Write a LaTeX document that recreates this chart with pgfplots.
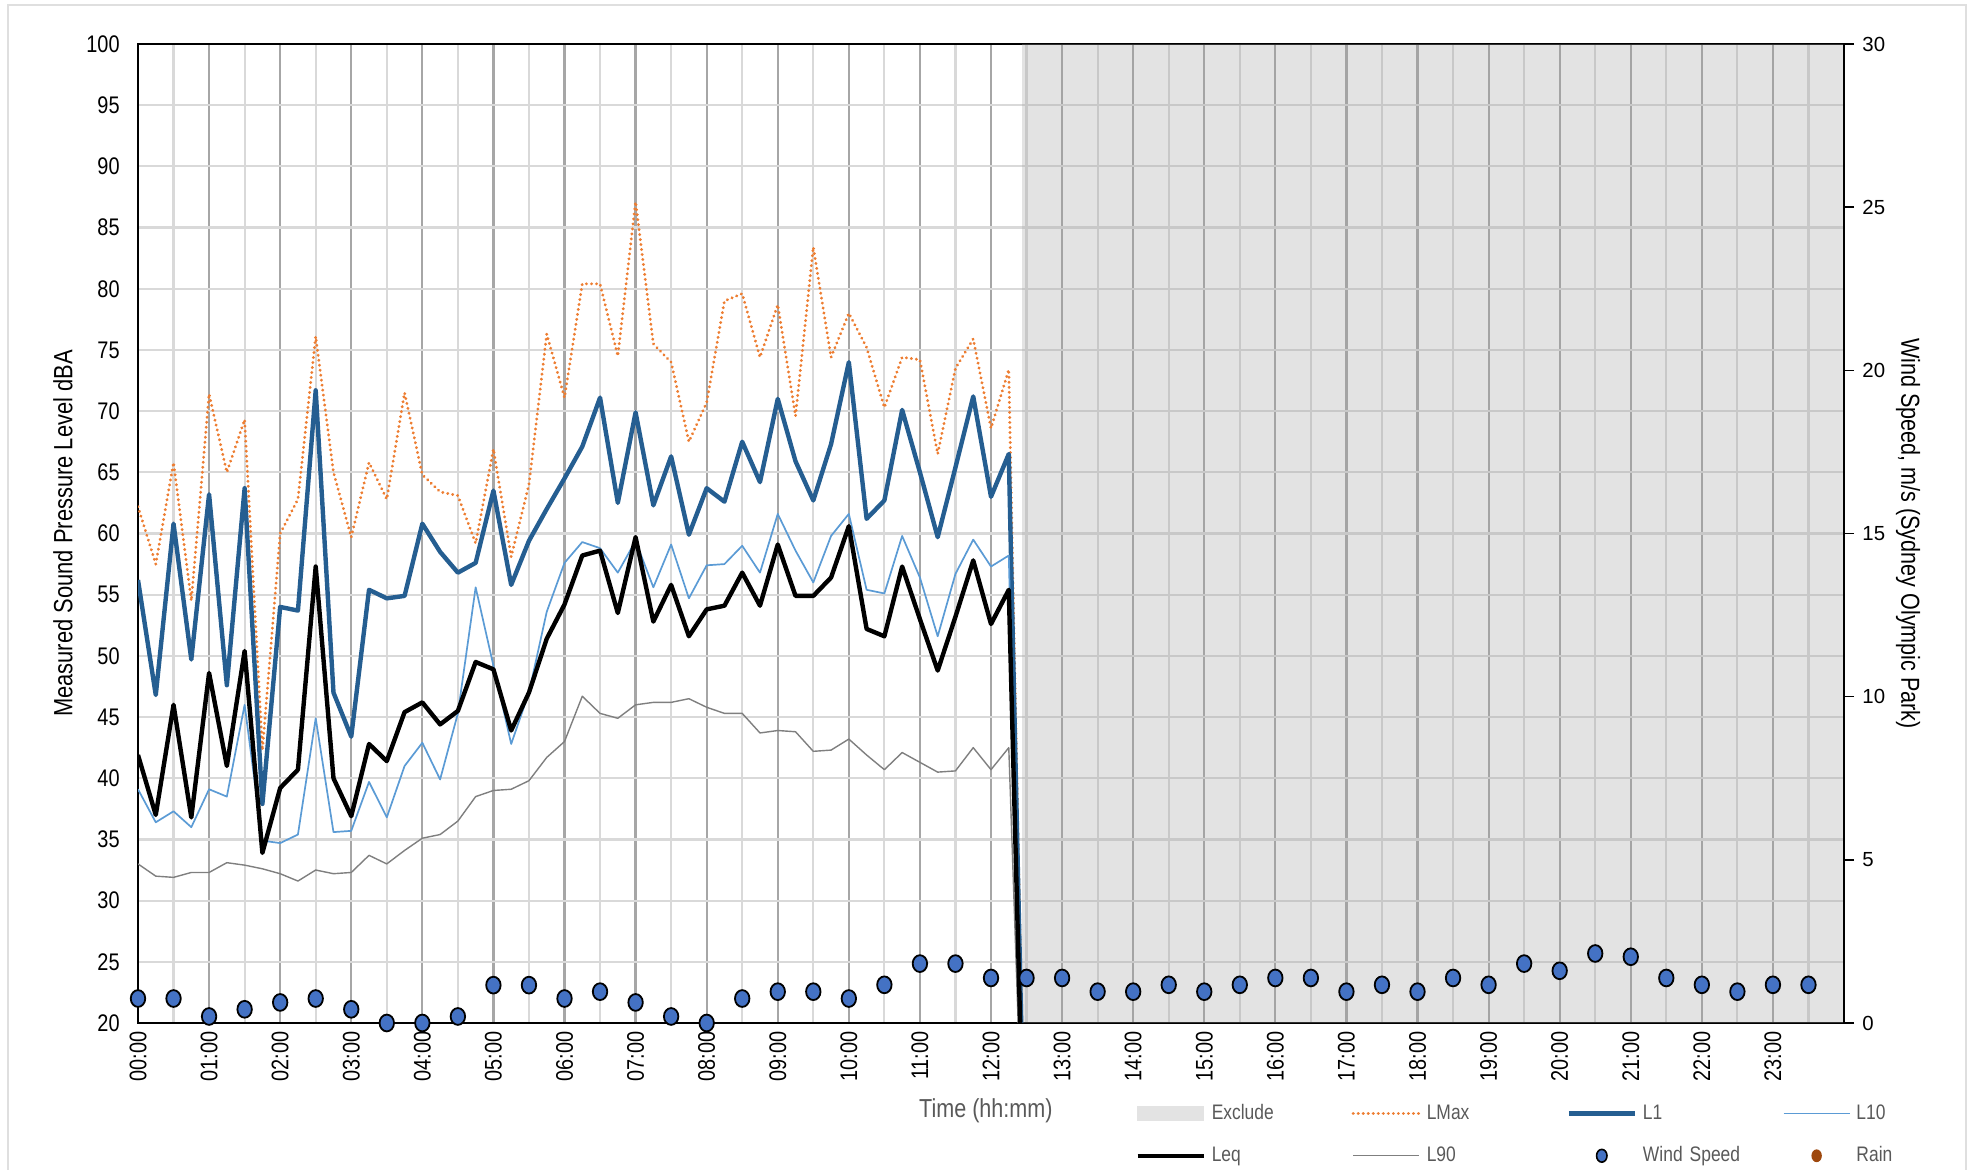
\documentclass[border=0pt]{standalone}
\usepackage{fontspec}
\usepackage{pgfplots}
\usepackage{pgfplotstable}
\pgfplotsset{compat=1.18}
\setmainfont{Liberation Sans}
\newfontfamily\narrowfont{Liberation Sans}[FakeStretch=0.83]
\definecolor{lOne}{HTML}{255E91}
\definecolor{lTen}{HTML}{5B9BD5}
\definecolor{lMax}{HTML}{ED7D31}
\definecolor{lNinety}{HTML}{7F7F7F}
\definecolor{windblue}{HTML}{4472C4}
\definecolor{rainbrown}{HTML}{9E480E}
\definecolor{exclgray}{HTML}{E3E3E3}
\definecolor{exclbase}{HTML}{A0A0A0}
\definecolor{gridlight}{HTML}{D9D9D9}
\definecolor{gridhour}{HTML}{A6A6A6}
\definecolor{txtgray}{HTML}{595959}

\pgfplotsset{
  linelegend/.style={legend image code/.code={\draw[##1] (0pt,0pt) -- (33pt,0pt);}},
  boxlegend/.style={legend image code/.code={\fill[exclgray] (0pt,-3.5pt) rectangle (33pt,3.5pt);}},
  windlegend/.style={legend image code/.code={\path[draw=none] (0pt,0pt) -- (33pt,0pt); \filldraw[fill=windblue, draw=black, line width=0.8pt] (16.5pt,0pt) ellipse (2.6pt and 3.2pt);}},
  rainlegend/.style={legend image code/.code={\path[draw=none] (0pt,0pt) -- (33pt,0pt); \fill[rainbrown, draw=none] (16.5pt,0pt) ellipse (2.6pt and 3.2pt);}},
}

\pgfplotstableread{
t L1 LMax L10 Leq L90
0.00 56.2 62.2 39.1 41.9 33.0
0.25 46.8 57.5 36.4 37.0 32.0
0.50 60.8 65.8 37.3 46.0 31.9
0.75 49.7 54.5 36.0 36.8 32.3
1.00 63.2 71.4 39.1 48.6 32.3
1.25 47.6 65.0 38.5 41.0 33.1
1.50 63.7 69.3 46.0 50.4 32.9
1.75 37.9 42.3 34.9 33.9 32.6
2.00 54.0 60.0 34.7 39.2 32.2
2.25 53.7 62.8 35.4 40.7 31.6
2.50 71.7 76.1 44.9 57.3 32.5
2.75 47.0 65.0 35.6 40.0 32.2
3.00 43.4 59.7 35.7 36.9 32.3
3.25 55.4 65.8 39.7 42.8 33.7
3.50 54.7 62.8 36.8 41.4 33.0
3.75 54.9 71.5 41.0 45.4 34.1
4.00 60.8 64.8 42.9 46.2 35.1
4.25 58.5 63.4 39.9 44.4 35.4
4.50 56.8 63.1 45.3 45.5 36.5
4.75 57.6 59.2 55.6 49.5 38.5
5.00 63.5 66.9 49.2 48.9 39.0
5.25 55.8 58.1 42.8 43.9 39.1
5.50 59.4 64.0 47.0 47.0 39.8
5.75 62.0 76.3 53.6 51.4 41.7
6.00 64.5 71.1 57.6 54.2 43.0
6.25 67.1 80.4 59.3 58.2 46.7
6.50 71.1 80.4 58.8 58.6 45.3
6.75 62.5 74.5 56.8 53.5 44.9
7.00 69.9 87.1 59.4 59.7 46.0
7.25 62.3 75.5 55.6 52.8 46.2
7.50 66.3 74.0 59.1 55.8 46.2
7.75 59.9 67.5 54.7 51.6 46.5
8.00 63.7 70.7 57.4 53.8 45.8
8.25 62.6 79.0 57.5 54.1 45.3
8.50 67.5 79.6 59.0 56.8 45.3
8.75 64.2 74.4 56.8 54.1 43.7
9.00 71.0 78.7 61.6 59.1 43.9
9.25 65.9 69.6 58.6 54.9 43.8
9.50 62.7 83.4 56.0 54.9 42.2
9.75 67.3 74.4 59.8 56.4 42.3
10.00 74.0 78.0 61.6 60.6 43.2
10.25 61.2 75.2 55.4 52.2 41.9
10.50 62.7 70.3 55.1 51.6 40.7
10.75 70.1 74.4 59.8 57.3 42.1
11.00 65.0 74.2 56.4 53.0 41.3
11.25 59.7 66.5 51.6 48.8 40.5
11.50 65.4 73.5 56.7 53.2 40.6
11.75 71.2 75.9 59.5 57.8 42.5
12.00 63.0 68.6 57.3 52.6 40.7
12.25 66.5 73.4 58.2 55.4 42.5
12.50 0 0 0 0 0
}\levels

\pgfplotstableread{
t w
0.0 0.75
0.5 0.75
1.0 0.20
1.5 0.42
2.0 0.63
2.5 0.75
3.0 0.42
3.5 0.00
4.0 0.00
4.5 0.20
5.0 1.16
5.5 1.16
6.0 0.75
6.5 0.96
7.0 0.63
7.5 0.20
8.0 0.00
8.5 0.75
9.0 0.96
9.5 0.96
10.0 0.75
10.5 1.17
11.0 1.82
11.5 1.82
12.0 1.38
12.5 1.38
13.0 1.38
13.5 0.96
14.0 0.96
14.5 1.17
15.0 0.96
15.5 1.17
16.0 1.38
16.5 1.38
17.0 0.96
17.5 1.17
18.0 0.96
18.5 1.38
19.0 1.17
19.5 1.82
20.0 1.60
20.5 2.13
21.0 2.03
21.5 1.38
22.0 1.17
22.5 0.96
23.0 1.17
23.5 1.17
}\wind

\begin{document}
\begin{tikzpicture}
\useasboundingbox (-69pt,-73.5pt) rectangle (917.5pt,511.5pt);
\draw[gray!25, line width=1pt] (-65pt,-90pt) -- (-65pt,509pt) -- (914pt,509pt) -- (914pt,-90pt);

\begin{axis}[
  scale only axis, width=853pt, height=489.5pt,
  at={(0pt,0pt)}, anchor=south west,
  xmin=0, xmax=24, ymin=20, ymax=100,
  xtick={0,1,...,23},
  xticklabels={00:00,01:00,02:00,03:00,04:00,05:00,06:00,07:00,08:00,09:00,10:00,11:00,12:00,13:00,14:00,15:00,16:00,17:00,18:00,19:00,20:00,21:00,22:00,23:00},
  minor xtick={0.5,1.5,...,23.5},
  ytick={20,25,...,100},
  xmajorgrids, xminorgrids, ymajorgrids,
  major x grid style={color=gridhour, line width=1.1pt},
  minor x grid style={color=gridlight, line width=1.1pt},
  major y grid style={color=gridlight, line width=1.1pt},
  major tick length=0pt, minor tick length=0pt,
  axis line style={black, line width=1.1pt},
  /pgf/number format/assume math mode=true,
  tick label style={font=\narrowfont\fontsize{12}{14}\selectfont, black},
  yticklabel style={inner sep=0pt, xshift=-9pt},
  xticklabel style={rotate=90, anchor=east, inner sep=0pt, xshift=-4pt},
  ylabel={Measured Sound Pressure Level dBA},
  ylabel style={at={(axis description cs:-0.044,0.5)}, anchor=center, font=\narrowfont\fontsize{13.2}{15}\selectfont, black},
  xlabel={Time (hh:mm)},
  xlabel style={at={(axis description cs:0.497,-0.0899)}, anchor=center, font=\narrowfont\fontsize{13}{15}\selectfont, txtgray},
]
\addplot[fill=exclbase, fill opacity=0.295, draw=none] coordinates {(12.44,100) (24,100)} \closedcycle;
\addplot[lMax, line width=1.6pt, dash pattern=on 0.01pt off 2.5pt, line cap=round, line join=round] table[x=t, y=LMax] {\levels};
\addplot[lOne, line width=2.2pt, line join=round] table[x=t, y=L1] {\levels};
\addplot[lTen, line width=0.85pt, line join=round] table[x=t, y=L10] {\levels};
\addplot[lNinety, line width=0.7pt, line join=round] table[x=t, y=L90] {\levels};
\addplot[black, line width=2.2pt, line join=round] table[x=t, y=Leq] {\levels};
\end{axis}

\begin{axis}[
  scale only axis, width=853pt, height=489.5pt,
  at={(0pt,0pt)}, anchor=south west,
  xmin=0, xmax=24, ymin=0, ymax=30,
  hide x axis,
  axis y line*=right,
  ytick={0,5,...,30},
  axis line style={black, line width=1.1pt},
  major tick length=5pt,
  tick align=outside,
  tick style={black, line width=0.8pt},
  /pgf/number format/assume math mode=true,
  yticklabel style={font=\fontsize{10.2}{12}\selectfont, black, inner sep=0pt, xshift=4pt},
  ylabel={Wind Speed, m/s (Sydney Olympic Park)},
  ylabel style={at={(axis description cs:1.0375,0.5)}, anchor=center, rotate=180, font=\narrowfont\fontsize{13}{15}\selectfont, black},
  clip=false,
  legend columns=4,
  legend style={at={(axis description cs:0.5844,-0.0787)}, anchor=north west, draw=none, fill=none, inner sep=0pt,
    font=\narrowfont\fontsize{10.5}{12}\selectfont, text=txtgray,
    row sep=8pt,
    nodes={text width=66pt, align=left, inner xsep=0pt},
    /tikz/every odd column/.append style={column sep=3pt},
    /tikz/every even column/.append style={column sep=3.9pt}},
  legend cell align=left,
]
\addplot[only marks, mark=*, mark size=4.2pt, mark options={fill=windblue, draw=black, line width=0.9pt, xscale=0.86}, forget plot] table[x=t, y=w] {\wind};
\addlegendimage{boxlegend}
\addlegendimage{linelegend, lMax, line width=1.6pt, dash pattern=on 0.01pt off 2.5pt, line cap=round}
\addlegendimage{linelegend, lOne, line width=2.2pt}
\addlegendimage{linelegend, lTen, line width=0.85pt}
\addlegendimage{linelegend, black, line width=2.2pt}
\addlegendimage{linelegend, lNinety, line width=0.7pt}
\addlegendimage{windlegend}
\addlegendimage{rainlegend}
\legend{Exclude, LMax, L1, L10, Leq, L90, Wind Speed, Rain}
\end{axis}
\end{tikzpicture}
\end{document}
